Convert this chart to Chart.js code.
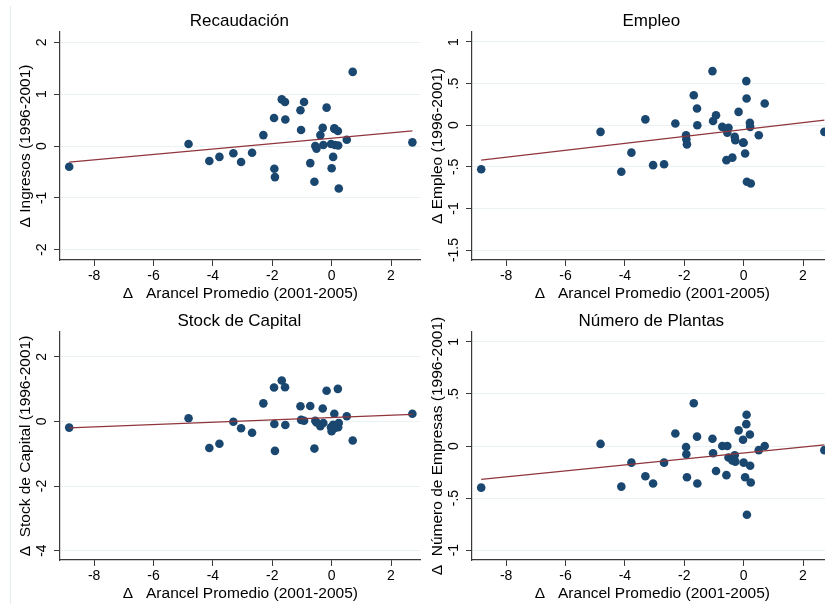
<!DOCTYPE html>
<html lang="es">
<head>
<meta charset="utf-8">
<title>Arancel promedio y variables de planta</title>
<script src="https://cdn.jsdelivr.net/npm/chart.js@4.4.1/dist/chart.umd.min.js"></script>
<style>
  html, body { margin: 0; padding: 0; background: #fff; width: 825px; height: 606px; overflow: hidden; }
  .panel { position: absolute; width: 425px; height: 306px; }
  .marco { position: absolute; left: 10px; top: 6px; height: 598px; border-left: 1px solid #e3ecee; }
</style>
</head>
<body>
<div class="marco"></div>
<div class="panel" style="left:0;top:0"><canvas id="g1"></canvas></div>
<div class="panel" style="left:412px;top:0"><canvas id="g2"></canvas></div>
<div class="panel" style="left:0;top:300px"><canvas id="g3"></canvas></div>
<div class="panel" style="left:412px;top:300px"><canvas id="g4"></canvas></div>
<script>
// cambio del arancel promedio 2001-2005, un valor por sector
const arancel = [-8.84, -4.82, -4.12, -3.78, -3.31, -3.05, -2.68, -2.30, -1.94, -1.93, -1.91, -1.68, -1.57, -1.56,
  -1.05, -1.03, -0.93, -0.72, -0.58, -0.55, -0.51, -0.38, -0.30, -0.28, -0.17, -0.02, 0.00, 0.05, 0.09, 0.10,
  0.11, 0.21, 0.22, 0.24, 0.51, 0.71, 2.72];

// cambios 1996-2001 en cada variable, mismo orden que arancel
const recaudacion = [-0.40, 0.04, -0.29, -0.21, -0.14, -0.31, -0.13, 0.21, 0.54, -0.44, -0.60, 0.90, 0.85, 0.51,
  0.69, 0.31, 0.85, -0.33, -0.69, 0.00, -0.05, 0.21, 0.35, 0.02, 0.74, 0.04, -0.43, -0.21, 0.34, 0.33,
  0.02, 0.29, 0.01, -0.82, 0.12, 1.43, 0.07];
const empleo = [-0.53, -0.08, -0.56, -0.33, 0.07, -0.48, -0.47, 0.02, -0.12, -0.17, -0.23, 0.36, 0.20, 0.00,
  0.65, 0.05, 0.12, -0.02, -0.42, -0.09, -0.03, -0.39, -0.14, -0.18, 0.16, -0.21, -0.21, -0.34, 0.53, 0.32,
  -0.68, 0.03, -0.02, -0.70, -0.12, 0.26, -0.08];
const capital = [-0.19, 0.10, -0.82, -0.69, -0.01, -0.21, -0.35, 0.56, 1.05, -0.08, -0.91, 1.27, 1.06, -0.11,
  0.47, 0.05, 0.02, 0.48, -0.84, 0.02, -0.03, -0.15, 0.40, -0.05, 0.95, -0.18, -0.30, -0.10, 0.24, -0.12,
  -0.20, 1.01, -0.18, -0.05, 0.16, -0.59, 0.24];
const plantas = [-0.40, 0.02, -0.39, -0.16, -0.29, -0.36, -0.16, 0.12, -0.01, -0.08, -0.30, 0.41, 0.09, -0.36,
  0.07, -0.07, -0.24, 0.00, -0.28, 0.00, -0.11, -0.14, -0.09, -0.15, 0.15, 0.06, -0.16, -0.30, 0.21, 0.30,
  -0.66, 0.11, -0.19, -0.35, -0.04, 0.00, -0.04];

// recta ajustada, valores en los extremos del rango de arancel
const extremos = [-8.84, 2.72];
const ajusteRecaudacion = [-0.31, 0.29];
const ajusteEmpleo = [-0.42, 0.06];
const ajusteCapital = [-0.20, 0.22];
const ajustePlantas = [-0.32, 0.01];

// marcas de los ejes
const ticksX = [-8, -6, -4, -2, 0, 2];
const ticksRecaudacion = [2, 1, 0, -1, -2];
const etiquetasRecaudacion = ['2', '1', '0', '-1', '-2'];
const ticksEmpleo = [1, 0.5, 0, -0.5, -1, -1.5];
const etiquetasEmpleo = ['1', '.5', '0', '-.5', '-1', '-1.5'];
const ticksCapital = [2, 0, -2, -4];
const etiquetasCapital = ['2', '0', '-2', '-4'];
const ticksPlantas = [1, 0.5, 0, -0.5, -1];
const etiquetasPlantas = ['1', '.5', '0', '-.5', '-1'];

const AZUL = '#1a476f';
const ROJO = '#90353b';
const EJE = '#3a3a3a';
const REJILLA = '#eaf2f3';
const FAMILIA = '"Liberation Sans", Arial, sans-serif';

// título del panel y etiquetas del eje y giradas, como en Stata
const rotulos = {
  id: 'rotulos',
  afterDraw(chart, args, opts) {
    const { ctx, chartArea } = chart;
    const y = chart.scales.y;
    ctx.save();
    ctx.fillStyle = '#000';
    ctx.textAlign = 'center';
    ctx.textBaseline = 'middle';
    ctx.font = '17px ' + FAMILIA;
    ctx.fillText(opts.titulo, (chartArea.left + chartArea.right) / 2 - 1, 21);
    ctx.font = '14px ' + FAMILIA;
    opts.ticks.forEach((v, i) => {
      ctx.save();
      ctx.translate(chartArea.left - 18, y.getPixelForValue(v));
      ctx.rotate(-Math.PI / 2);
      ctx.fillText(opts.etiquetas[i], 0, 0);
      ctx.restore();
    });
    ctx.restore();
  }
};

function panel(id, titulo, tituloY, valores, ajuste, rangoY, ticksY, etiquetasY) {
  new Chart(document.getElementById(id), {
    type: 'scatter',
    data: {
      datasets: [
        {
          type: 'line',
          data: extremos.map((x, i) => ({ x, y: ajuste[i] })),
          borderColor: ROJO,
          borderWidth: 1.3,
          pointRadius: 0,
          showLine: true,
          fill: false
        },
        {
          data: arancel.map((x, i) => ({ x, y: valores[i] })),
          backgroundColor: AZUL,
          pointRadius: 4.3,
          pointHoverRadius: 4.3,
          pointBorderWidth: 0
        }
      ]
    },
    options: {
      responsive: true,
      maintainAspectRatio: false,
      animation: false,
      events: [],
      layout: { padding: { top: 32, right: 3, left: 0, bottom: 0 } },
      plugins: {
        legend: { display: false },
        tooltip: { enabled: false },
        rotulos: { titulo, ticks: ticksY, etiquetas: etiquetasY }
      },
      scales: {
        x: {
          type: 'linear',
          min: -9.15,
          max: 3.0,
          afterBuildTicks: s => { s.ticks = ticksX.map(v => ({ value: v })); },
          afterFit: s => { s.height = 46; },
          ticks: { font: { family: FAMILIA, size: 14 }, color: '#000', padding: 2 },
          grid: { drawOnChartArea: false, tickLength: 6, tickColor: EJE },
          border: { color: EJE, width: 1.2 },
          title: {
            display: true,
            text: 'Δ   Arancel Promedio (2001-2005)',
            font: { family: FAMILIA, size: 15.5 },
            color: '#000',
            padding: { top: 0, bottom: 3 }
          }
        },
        y: {
          type: 'linear',
          min: rangoY[0],
          max: rangoY[1],
          afterBuildTicks: s => { s.ticks = ticksY.map(v => ({ value: v })); },
          afterFit: s => { s.width = 60; },
          ticks: { display: false },
          grid: { color: REJILLA, lineWidth: 1, tickLength: 6, tickColor: EJE },
          border: { color: EJE, width: 1.2 },
          title: {
            display: true,
            text: tituloY,
            font: { family: FAMILIA, size: 15.5 },
            color: '#000',
            padding: { top: 16, bottom: 0 }
          }
        }
      }
    },
    plugins: [rotulos]
  });
}

panel('g1', 'Recaudación', 'Δ Ingresos (1996-2001)', recaudacion, ajusteRecaudacion,
  [-2.2, 2.2], ticksRecaudacion, etiquetasRecaudacion);
panel('g2', 'Empleo', 'Δ Empleo (1996-2001)', empleo, ajusteEmpleo,
  [-1.62, 1.12], ticksEmpleo, etiquetasEmpleo);
panel('g3', 'Stock de Capital', 'Δ  Stock de Capital (1996-2001)', capital, ajusteCapital,
  [-4.29, 2.77], ticksCapital, etiquetasCapital);
panel('g4', 'Número de Plantas', 'Δ  Número de Empresas (1996-2001)', plantas, ajustePlantas,
  [-1.095, 1.095], ticksPlantas, etiquetasPlantas);
</script>
</body>
</html>
